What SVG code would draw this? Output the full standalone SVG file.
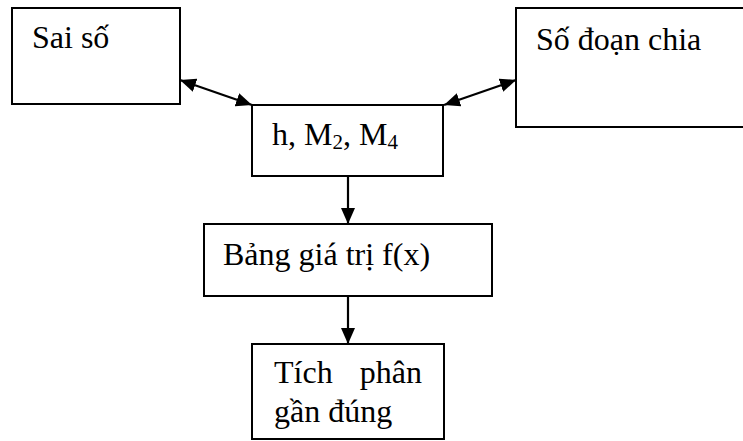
<svg xmlns="http://www.w3.org/2000/svg" width="743" height="441" viewBox="0 0 743 441">
<style>
.box{fill:#fff;stroke:#000;stroke-width:2}
.t{font-family:"Liberation Serif","Times New Roman",serif;font-size:32px;fill:#000}
.sub{font-size:21px}
.c{stroke:#000;stroke-width:2.2;fill:none}
</style>
<defs>
<marker id="ah" viewBox="0 0 16 14" refX="16" refY="7" markerWidth="16" markerHeight="14" markerUnits="userSpaceOnUse" orient="auto-start-reverse">
<path d="M0,0 L16,7 L0,14 z" fill="#000"/>
</marker>
</defs>
<rect width="743" height="441" fill="#fff"/>
<g id="connectors">
<line class="c" x1="180" y1="80" x2="252" y2="105" marker-start="url(#ah)" marker-end="url(#ah)"/>
<line class="c" x1="444" y1="105" x2="516" y2="80" marker-start="url(#ah)" marker-end="url(#ah)"/>
<line class="c" x1="348" y1="176" x2="348" y2="224" marker-end="url(#ah)"/>
<line class="c" x1="348" y1="296" x2="348" y2="344" marker-end="url(#ah)"/>
</g>
<g id="sai-so">
<rect class="box" x="12" y="8" width="168" height="96"/>
<text class="t" x="32" y="48">Sai số</text>
</g>
<g id="so-doan-chia">
<rect class="box" x="516" y="8" width="240" height="119"/>
<text class="t" x="536" y="50">Số đoạn chia</text>
</g>
<g id="h-m2-m4">
<rect class="box" x="252" y="105" width="191" height="71"/>
<text class="t" x="272" y="145">h, M<tspan class="sub" dy="4">2</tspan><tspan dy="-4">, M</tspan><tspan class="sub" dy="4">4</tspan></text>
</g>
<g id="bang-gia-tri">
<rect class="box" x="204" y="224" width="288" height="72"/>
<text class="t" x="223" y="265">Bảng giá trị f(x)</text>
</g>
<g id="tich-phan">
<rect class="box" x="252" y="344" width="192" height="95"/>
<text class="t" x="274" y="383">Tích</text>
<text class="t" x="422" y="383" text-anchor="end">phân</text>
<text class="t" x="274" y="422">gần đúng</text>
</g>
</svg>
